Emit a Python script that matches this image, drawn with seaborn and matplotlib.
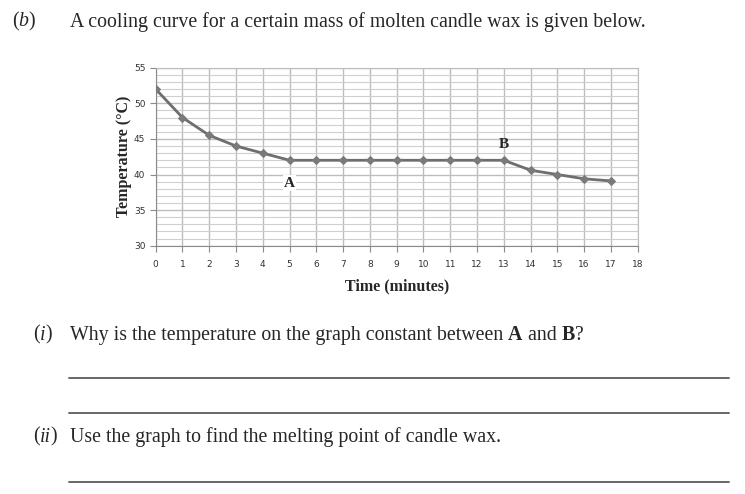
import seaborn as sns
import matplotlib.pyplot as plt
import pandas as pd
from matplotlib.ticker import MultipleLocator

# cooling curve readings
time_min = [0, 1, 2, 3, 4, 5, 6, 7, 8, 9, 10, 11, 12, 13, 14, 15, 16, 17]
temp_c = [52, 48, 45.5, 44, 43, 42, 42, 42, 42, 42, 42, 42, 42, 42, 40.6, 40, 39.4, 39.1]
x_ticks = list(range(0, 19))
y_ticks = [30, 35, 40, 45, 50, 55]

df = pd.DataFrame({"time": time_min, "temp": temp_c})

sns.set_style("white")
plt.rcParams["font.family"] = ["DejaVu Sans"]
serif = ["Liberation Serif", "DejaVu Serif"]

fig = plt.figure(figsize=(7.45, 4.94), dpi=100)
ax = fig.add_axes([0.209, 0.5026, 0.647, 0.3603])

sns.lineplot(data=df, x="time", y="temp", ax=ax, color="#6e6e6e", linewidth=2,
             marker="D", markersize=4, markerfacecolor="#7a7a7a",
             markeredgecolor="#7a7a7a", zorder=3)

ax.set_xlim(0, 18)
ax.set_ylim(30, 55)
ax.set_xticks(x_ticks)
ax.set_yticks(y_ticks)
ax.yaxis.set_minor_locator(MultipleLocator(1))
ax.grid(which="major", color="#bdbdbd", linewidth=1)
ax.grid(which="minor", axis="y", color="#cfcfcf", linewidth=0.8)
for s in ax.spines.values():
    s.set_color("#bdbdbd")
ax.spines["left"].set_color("#8a8a8a")
ax.spines["bottom"].set_color("#8a8a8a")
ax.tick_params(axis="both", which="major", labelsize=6.5, labelcolor="#333333",
               color="#8a8a8a", length=4, direction="out", left=True, bottom=True)
ax.tick_params(axis="y", which="minor", length=0)
ax.tick_params(axis="x", pad=6)
ax.set_xlabel("Time (minutes)", family=serif, fontweight="bold", fontsize=11.5, labelpad=7)
ax.set_ylabel("Temperature (°C)", family=serif, fontweight="bold", fontsize=11.5, labelpad=1)

ax.text(5, 38.8, "A", family=serif, fontweight="bold", fontsize=11, ha="center", va="center",
        bbox=dict(facecolor="white", edgecolor="none", pad=1), zorder=4)
ax.text(13, 44.2, "B", family=serif, fontweight="bold", fontsize=11, ha="center", va="center",
        zorder=4)

fs = 14.3
renderer = fig.canvas.get_renderer()


def write_line(x_px, y_px, pieces):
    # pieces: (text, style, weight), placed one after another
    x = x_px / 745
    for txt, style, weight in pieces:
        t = fig.text(x, 1 - y_px / 494, txt, family=serif, fontsize=fs, va="center",
                     style=style, fontweight=weight)
        bb = t.get_window_extent(renderer)
        x = bb.x1 / fig.bbox.width


write_line(12, 22, [("(", "normal", "normal"), ("b", "italic", "normal"), (")", "normal", "normal")])
write_line(70, 22, [("A cooling curve for a certain mass of molten candle wax is given below.",
                     "normal", "normal")])
write_line(33, 335, [("(", "normal", "normal"), ("i", "italic", "normal"), (")", "normal", "normal")])
write_line(70, 335, [("Why is the temperature on the graph constant between ", "normal", "normal"),
                     ("A", "normal", "bold"), (" and ", "normal", "normal"),
                     ("B", "normal", "bold"), ("?", "normal", "normal")])
write_line(33, 437, [("(", "normal", "normal"), ("ii", "italic", "normal"), (")", "normal", "normal")])
write_line(70, 437, [("Use the graph to find the melting point of candle wax.", "normal", "normal")])

for yl in [378, 413, 482]:
    fig.add_artist(plt.Line2D([69 / 745, 729 / 745], [1 - yl / 494, 1 - yl / 494],
                              color="#666666", linewidth=1.4))

fig.savefig("out.png", dpi=100)
